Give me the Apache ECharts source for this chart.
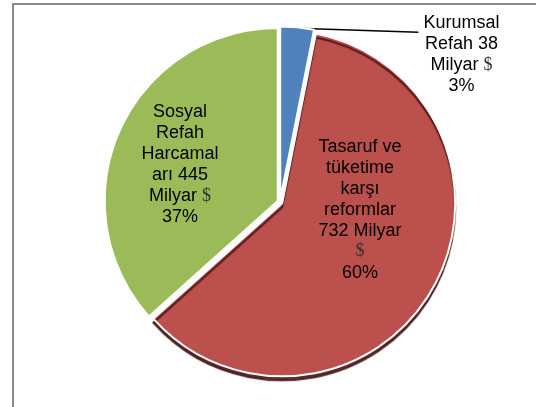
<!DOCTYPE html>
<html>
<head>
<meta charset="utf-8">
<script src="https://cdn.jsdelivr.net/npm/echarts@6/dist/echarts.min.js"></script>
<style>
  html, body { margin: 0; padding: 0; background: #fff; }
  #main { width: 536px; height: 407px; }
</style>
</head>
<body>
<div id="main"></div>
<script>
var names = ['Kurumsal Refah', 'Tasaruf ve tüketime karşı reformlar', 'Sosyal Refah Harcamaları'];
var values = [38, 732, 445];
var colors = ['#4f81bd', '#bb504d', '#9bbb59'];
// label lines as wrapped in the original ({v} value, {$} dollar sign, {p} percent)
var labelLines = [
  ['Kurumsal', 'Refah {v}', 'Milyar {$}', '{p}'],
  ['Tasaruf ve', 'tüketime', 'karşı', 'reformlar', '{v} Milyar', '{$}', '{p}'],
  ['Sosyal', 'Refah', 'Harcamal', 'arı {v}', 'Milyar {$}', '{p}']
];

var myChart = echarts.init(document.getElementById('main'));

var data = names.map(function(n, i) {
  var item = {
    name: n,
    value: values[i],
    selected: true,
    itemStyle: { color: colors[i] }
  };
  if (i == 0) {
    item.label = { position: 'outside', padding: [58, 0, 0, 0] };
    item.labelLine = { show: true };
  } else {
    item.label = { position: 'inside' };
    item.labelLine = { show: false };
  }
  if (i == 1) {
    item.itemStyle.shadowColor = 'rgba(70,20,20,0.9)';
    item.itemStyle.shadowOffsetY = 4;
    item.itemStyle.shadowBlur = 1;
  }
  return item;
});

function makeLabel(p) {
  return labelLines[p.dataIndex].map(function(line) {
    line = line.replace('{v}', p.value).replace('{p}', Math.round(p.percent) + '%');
    var parts = line.split('{$}');
    var out = '';
    if (parts[0] !== '') out += '{t|' + parts[0] + '}';
    if (parts.length > 1) {
      out += '{usd|$}';
      if (parts[1] !== '') out += '{t|' + parts[1] + '}';
    }
    return out;
  }).join('\n');
}

myChart.setOption({
  animation: false,
  graphic: [{
    type: 'rect',
    shape: { x: 13, y: 4, width: 600, height: 500 },
    style: { fill: 'none', stroke: '#8a8a8a', lineWidth: 2 },
    silent: true
  }],
  series: [{
    type: 'pie',
    center: [280, 202],
    radius: 173,
    startAngle: 90,
    clockwise: true,
    selectedMode: 'multiple',
    selectedOffset: 2.5,
    emphasis: { disabled: true },
    itemStyle: { borderColor: '#fff', borderWidth: 2 },
    label: {
      show: true,
      color: '#000',
      fontFamily: 'Liberation Sans',
      fontSize: 18,
      lineHeight: 21,
      formatter: makeLabel,
      rich: {
        t: { fontFamily: 'Liberation Sans', fontSize: 18, color: '#000', lineHeight: 21, align: 'center' },
        usd: { fontFamily: 'Liberation Serif', fontSize: 18, color: '#333', lineHeight: 21, align: 'center' }
      }
    },
    labelLine: {
      length: 2,
      length2: 121,
      smooth: false,
      lineStyle: { color: '#000', width: 1.5 }
    },
    labelLayout: function(params) {
      if (params.dataIndex == 1) return { dx: 0, dy: -38 };
      if (params.dataIndex == 2) return { dx: -16, dy: 0 };
      var pts = params.labelLinePoints;
      if (pts) {
        pts[0][1] += 1;
        pts[1] = pts[0].slice();
        pts[2][1] += 7;
        return { labelLinePoints: pts };
      }
      return {};
    },
    data: data
  }]
});
</script>
</body>
</html>
